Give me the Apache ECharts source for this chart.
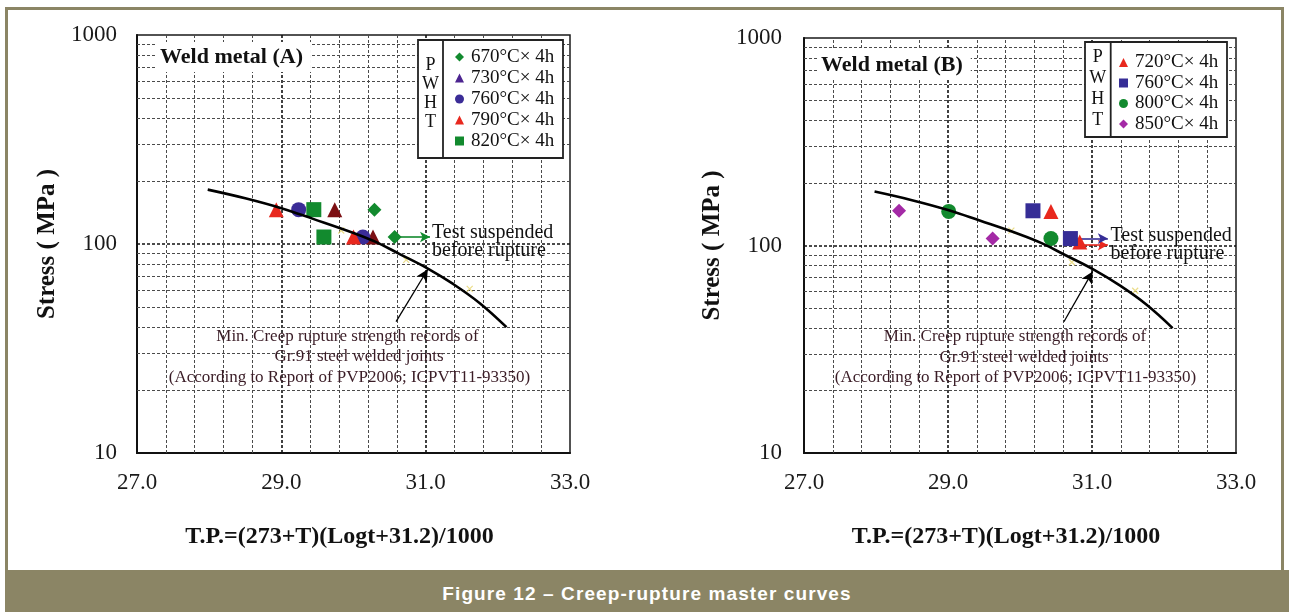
<!DOCTYPE html>
<html>
<head>
<meta charset="utf-8">
<script src="https://cdn.jsdelivr.net/npm/echarts@6/dist/echarts.min.js"></script>
<style>
  html, body { margin: 0; padding: 0; background: #fff; }
  #page { position: relative; width: 1289px; height: 612px; overflow: hidden; background: #fff; }
  #frame { position: absolute; left: 5px; top: 7px; width: 1279px; height: 563px;
           border: 3px solid #8b8565; border-bottom: none; box-sizing: border-box; }
  .chart { position: absolute; top: 0; height: 570px; }
  #band { position: absolute; left: 5px; top: 570px; width: 1284px; height: 42px;
          background: #8b8565; color: #fff; font: bold 19px "Liberation Sans", Arial, sans-serif;
          letter-spacing: 1.1px; text-align: center; line-height: 48px; }
</style>
</head>
<body>
<div id="page">
  <div id="frame"></div>
  <div id="chartA" class="chart" style="left:0;width:645px"></div>
  <div id="chartB" class="chart" style="left:645px;width:644px"></div>
  <div id="band">Figure 12 – Creep-rupture master curves</div>
</div>
<script>
// ---- axis ticks and grid values ----
const xTickLabels = [27, 29, 31, 33];
const yTickLabels = [10, 100, 1000];
const xMinorGrid = [27.4, 27.8, 28.2, 28.6, 29.4, 29.8, 30.2, 30.6, 31.4, 31.8, 32.2, 32.6];
const xMajorGrid = [29, 31];
const yMinorGrid = [20, 30, 40, 50, 60, 70, 80, 90, 200, 300, 400, 500, 600, 700, 800, 900];
const yMajorGrid = [100];

// ---- master curve: min. creep rupture strength of Gr.91 welded joints ----
const curveTP = [27.98, 28.5, 29.0, 29.44, 30.0, 30.3, 30.64, 31.03, 31.38, 31.75, 32.12];
const curveStress = [182, 165.4, 148.3, 131.9, 113, 102.6, 89.5, 76.3, 64.4, 52.1, 40];
// arrow from the note up to the curve
const noteArrowA = [[30.59, 42.5], [31.03, 75.7]];
const noteArrowB = [[30.61, 42.9], [31.01, 75.0]];

// ---- Weld metal (A) ----
const namesA = ['670°C× 4h', '730°C× 4h', '760°C× 4h', '790°C× 4h', '820°C× 4h'];
const a670 = [[30.29, 146], [30.57, 108]];
const a730 = [[29.74, 146], [30.27, 108]];
const a760 = [[29.24, 146], [30.13, 108]];
const a790 = [[28.93, 146], [30.00, 108]];
const a820 = [[29.45, 146], [29.59, 108]];
const aOther = [[29.83, 116], [30.73, 84], [31.61, 61]];
const aSuspended670 = [[30.64, 108], [31.06, 108]];

// ---- Weld metal (B) ----
const namesB = ['720°C× 4h', '760°C× 4h', '800°C× 4h', '850°C× 4h'];
const b720 = [[30.43, 146], [30.83, 104]];
const b760 = [[30.18, 147], [30.70, 108]];
const b800 = [[29.01, 146], [30.43, 108]];
const b850 = [[28.32, 147], [29.62, 108]];
const bOther = [[29.88, 118], [30.72, 83], [31.60, 60.5]];
const bSuspended760 = [[30.79, 108], [31.22, 108]];
const bSuspended720 = [[30.88, 100.5], [31.22, 100.5]];

const SERIF = '"Liberation Serif", "Times New Roman", serif';

function gridLineData() {
  const minor = { color: '#4a4a4a', width: 1, type: [3, 2] };
  const major = { color: '#111', width: 1.6, type: [3, 2] };
  const d = [];
  xMinorGrid.forEach(v => d.push({ xAxis: v, lineStyle: minor }));
  xMajorGrid.forEach(v => d.push({ xAxis: v, lineStyle: major }));
  yMinorGrid.forEach(v => d.push({ yAxis: v, lineStyle: minor }));
  yMajorGrid.forEach(v => d.push({ yAxis: v, lineStyle: major }));
  return d;
}

function arrowLine(pts, color) {
  return [{ coord: pts[0], lineStyle: { color: color, width: 1.6, type: 'solid' } }, { coord: pts[1] }];
}

function buildOption(cfg) {
  const series = [{
    name: 'grid', type: 'scatter', data: [], z: 1, silent: true,
    markLine: { silent: true, z: 1, symbol: 'none', label: { show: false }, animation: false, data: gridLineData() }
  }];
  cfg.points.forEach(p => {
    const s = {
      name: p.name, type: 'scatter', data: p.data, symbol: p.symbol, symbolSize: p.size,
      itemStyle: { color: p.color, opacity: 1 }, z: 4
    };
    if (p.arrow) {
      s.markLine = {
        silent: true, z: 4, symbol: ['none', 'arrow'], symbolSize: [8, 10], label: { show: false },
        animation: false, data: [arrowLine(p.arrow, p.arrowColor || p.color)]
      };
    }
    series.push(s);
  });
  if (cfg.extraArrows) {
    series.push({
      name: 'suspended', type: 'scatter', data: [], z: 4, silent: true,
      markLine: {
        silent: true, z: 4, symbol: ['none', 'arrow'], symbolSize: [8, 10], label: { show: false },
        animation: false, data: cfg.extraArrows.map(a => arrowLine(a.pts, a.color))
      }
    });
  }
  series.push({
    name: 'other', type: 'scatter', data: cfg.other, symbol: 'path://M0,0L10,10M10,0L0,10',
    symbolSize: 6, itemStyle: { color: 'rgba(0,0,0,0)', borderColor: '#e6d46c', borderWidth: 1.2 }, z: 4
  });
  series.push({
    name: 'curve', type: 'line', data: curveTP.map((x, i) => [x, curveStress[i]]),
    smooth: 0.4, showSymbol: false, symbol: 'none', lineStyle: { color: '#000', width: 2.6 }, z: 5,
    markLine: {
      silent: true, z: 5, symbol: ['none', 'arrow'], symbolSize: [9, 12], label: { show: false },
      animation: false,
      data: [[{ coord: cfg.noteArrow[0], lineStyle: { color: '#000', width: 1.3, type: 'solid' } }, { coord: cfg.noteArrow[1] }]]
    }
  });

  const g = cfg.g;
  return {
    animation: false,
    grid: { left: g.left, top: g.top, width: g.width, height: g.height, show: true,
            borderColor: '#1a1a1a', borderWidth: 1.5, backgroundColor: 'transparent' },
    xAxis: {
      type: 'value', min: 27, max: 33, interval: 1,
      name: 'T.P.=(273+T)(Logt+31.2)/1000', nameLocation: 'middle', nameGap: 72,
      nameTextStyle: { fontFamily: SERIF, fontWeight: 'bold', fontSize: 24, color: '#111', padding: [0, 28, 0, 0] },
      axisLine: { show: true, onZero: false, lineStyle: { color: '#111', width: 2 } },
      axisTick: { show: false }, splitLine: { show: false },
      axisLabel: {
        margin: 18, fontFamily: SERIF, fontSize: 23, color: '#1a1a1a',
        formatter: v => (xTickLabels.indexOf(v) >= 0 ? v.toFixed(1) : '')
      }
    },
    yAxis: {
      type: 'log', logBase: 10, min: 10, max: 1000,
      name: 'Stress ( MPa )', nameLocation: 'middle', nameGap: cfg.yNameGap, nameRotate: 90,
      nameTextStyle: { fontFamily: SERIF, fontWeight: 'bold', fontSize: 25, color: '#111' },
      axisLine: { show: true, lineStyle: { color: '#111', width: 2 } },
      axisTick: { show: false }, splitLine: { show: false }, minorSplitLine: { show: false },
      axisLabel: {
        margin: cfg.yLabelMargin, fontFamily: SERIF, fontSize: 23, color: '#1a1a1a',
        formatter: v => (yTickLabels.indexOf(Math.round(v)) >= 0 ? String(Math.round(v)) : '')
      }
    },
    legend: {
      orient: 'vertical', left: cfg.legend.left, top: cfg.legend.top, padding: 0,
      itemWidth: 9, itemHeight: 9, itemGap: cfg.legend.gap, selectedMode: false, z: 10,
      data: cfg.legend.data,
      textStyle: { fontFamily: SERIF, fontSize: 19, lineHeight: 17, color: '#111', padding: [0, 0, 0, 2] }
    },
    graphic: cfg.graphic,
    series: series
  };
}

function frameGraphics(c) {
  return [
    { type: 'rect', z: 3, shape: { x: c.box.x, y: c.box.y, width: c.box.w, height: c.box.h },
      style: { fill: '#fff', stroke: '#222', lineWidth: 1.8 } },
    { type: 'line', z: 3, shape: { x1: c.box.div, y1: c.box.y, x2: c.box.div, y2: c.box.y + c.box.h },
      style: { stroke: '#222', lineWidth: 1.8 } },
    { type: 'text', z: 4, style: { text: 'P\nW\nH\nT', x: c.pwht.x, y: c.pwht.y, font: '18px ' + SERIF,
      lineHeight: c.pwht.lh, fill: '#111', align: 'center', verticalAlign: 'middle' } },
    { type: 'text', z: 3, style: { text: c.title, x: c.titlePos.x, y: c.titlePos.y, font: 'bold 22px ' + SERIF,
      fill: '#111', align: 'left', verticalAlign: 'middle', backgroundColor: '#fff', padding: [4, 8, 4, 4] } },
    { type: 'text', z: 3, style: { text: 'Test suspended\nbefore rupture', x: c.susp.x, y: c.susp.y,
      font: '20px ' + SERIF, lineHeight: 18, fill: '#111', align: 'left', verticalAlign: 'middle' } },
    { type: 'text', z: 3, style: { text: 'Min. Creep rupture strength records of', x: c.note[0][0], y: c.note[0][1],
      font: '17px ' + SERIF, fill: '#3a1c26', align: 'center', verticalAlign: 'middle' } },
    { type: 'text', z: 3, style: { text: 'Gr.91 steel welded joints', x: c.note[1][0], y: c.note[1][1],
      font: '17px ' + SERIF, fill: '#3a1c26', align: 'center', verticalAlign: 'middle' } },
    { type: 'text', z: 3, style: { text: '(According to Report of PVP2006; ICPVT11-93350)', x: c.note[2][0], y: c.note[2][1],
      font: '17px ' + SERIF, fill: '#3a1c26', align: 'center', verticalAlign: 'middle' } }
  ];
}

const optionA = buildOption({
  g: { left: 137, top: 35, width: 433, height: 418 },
  yNameGap: 68, yLabelMargin: 20,
  noteArrow: noteArrowA,
  other: aOther,
  points: [
    { name: namesA[0], data: a670, symbol: 'diamond', size: 14, color: '#128a2e', arrow: aSuspended670 },
    { name: namesA[1], data: a730, symbol: 'triangle', size: 15, color: '#7c0f13' },
    { name: namesA[2], data: a760, symbol: 'circle', size: 15, color: '#3b2c97' },
    { name: namesA[3], data: a790, symbol: 'triangle', size: 15, color: '#e8281e' },
    { name: namesA[4], data: a820, symbol: 'rect', size: 15, color: '#128a2e' }
  ],
  legend: {
    left: 455, top: 47.5, gap: 2,
    data: [namesA[0], { name: namesA[1], itemStyle: { color: '#4c2490' } }, namesA[2], namesA[3], namesA[4]]
  },
  graphic: frameGraphics({
    box: { x: 418, y: 40, w: 145, h: 118, div: 443 },
    pwht: { x: 430.5, y: 94, lh: 19 },
    title: 'Weld metal (A)', titlePos: { x: 156, y: 57 },
    susp: { x: 432, y: 242 },
    note: [[347.5, 337], [359, 357], [349.5, 378]]
  })
});

const optionB = buildOption({
  g: { left: 159, top: 38, width: 432, height: 415 },
  yNameGap: 68.5, yLabelMargin: 22,
  noteArrow: noteArrowB,
  other: bOther,
  points: [
    { name: namesB[0], data: b720, symbol: 'triangle', size: 15, color: '#e8281e' },
    { name: namesB[1], data: b760, symbol: 'rect', size: 15, color: '#362d96' },
    { name: namesB[2], data: b800, symbol: 'circle', size: 15, color: '#128a2e' },
    { name: namesB[3], data: b850, symbol: 'diamond', size: 14, color: '#a42aa6' }
  ],
  extraArrows: [
    { pts: bSuspended720, color: '#e8281e' },
    { pts: bSuspended760, color: '#362d96' }
  ],
  legend: { left: 474, top: 53, gap: 1.5, data: namesB },
  graphic: frameGraphics({
    box: { x: 440, y: 42, w: 142, h: 95, div: 465.7 },
    pwht: { x: 452.8, y: 89, lh: 21 },
    title: 'Weld metal (B)', titlePos: { x: 172, y: 65 },
    susp: { x: 465.5, y: 245 },
    note: [[370, 337], [379, 358], [370.5, 378]]
  })
});

echarts.init(document.getElementById('chartA'), null, { renderer: 'canvas' }).setOption(optionA);
echarts.init(document.getElementById('chartB'), null, { renderer: 'canvas' }).setOption(optionB);
</script>
</body>
</html>
